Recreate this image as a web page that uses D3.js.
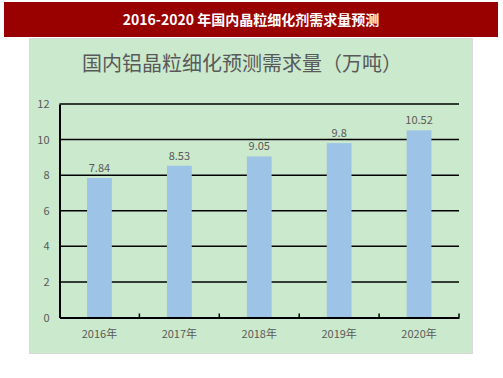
<!DOCTYPE html>
<html>
<head>
<meta charset="utf-8">
<script src="https://cdn.jsdelivr.net/npm/d3@7"></script>
<style>
  body { margin: 0; background: #fff; }
  svg { display: block; }
</style>
</head>
<body>
<svg id="chart" width="503" height="378"></svg>
<script>
// data
var years = ["2016年", "2017年", "2018年", "2019年", "2020年"];
var demand = [7.84, 8.53, 9.05, 9.8, 10.52];
var yTicks = [0, 2, 4, 6, 8, 10, 12];

var bannerTitle = "2016-2020 年国内晶粒细化剂需求量预测";
var chartTitle = "国内铝晶粒细化预测需求量（万吨）";

var svg = d3.select("#chart");
var cjk = "'Noto Sans CJK SC', 'Noto Sans', sans-serif";

// red banner
svg.append("rect")
  .attr("x", 4).attr("y", 2)
  .attr("width", 494).attr("height", 35)
  .attr("fill", "#990000");
svg.append("text")
  .attr("x", 251).attr("y", 25)
  .attr("text-anchor", "middle")
  .attr("fill", "#fff")
  .attr("font-family", cjk)
  .attr("font-weight", "bold")
  .attr("font-size", 14)
  .text(bannerTitle);

// green panel
svg.append("rect")
  .attr("x", 29.5).attr("y", 38.5)
  .attr("width", 443).attr("height", 315)
  .attr("fill", "#cbe9cd")
  .attr("stroke", "#d9d9d9");

svg.append("text")
  .attr("x", 242).attr("y", 71)
  .attr("text-anchor", "middle")
  .attr("fill", "#595959")
  .attr("font-family", cjk)
  .attr("font-size", 20)
  .text(chartTitle);

// plot box (named so we don't clash with window.top)
var plotL = 59.5, plotR = 459, plotT = 104, plotB = 317.5;

var x = d3.scaleBand()
  .domain(years)
  .range([plotL, plotR])
  .paddingInner(0.69)
  .paddingOuter(0.345);

var y = d3.scaleLinear()
  .domain([0, 12])
  .range([plotB, plotT]);

// gridlines
svg.append("g")
  .selectAll("line")
  .data(yTicks.slice(1))
  .join("line")
  .attr("x1", plotL).attr("x2", plotR)
  .attr("y1", d => y(d)).attr("y2", d => y(d))
  .attr("stroke", "#000")
  .attr("stroke-width", 1.5);

// bars
svg.append("g")
  .selectAll("rect")
  .data(demand)
  .join("rect")
  .attr("x", (d, i) => x(years[i]))
  .attr("y", d => y(d))
  .attr("width", x.bandwidth())
  .attr("height", d => plotB - y(d))
  .attr("fill", "#9dc3e6");

// value labels
svg.append("g")
  .selectAll("text")
  .data(demand)
  .join("text")
  .attr("x", (d, i) => x(years[i]) + x.bandwidth() / 2)
  .attr("y", d => y(d) - 6)
  .attr("text-anchor", "middle")
  .attr("fill", "#595959")
  .attr("font-family", cjk)
  .attr("font-size", 11)
  .text(d => d);

// y axis
var yAxis = svg.append("g")
  .attr("transform", `translate(${plotL},0)`)
  .call(d3.axisLeft(y).tickValues(yTicks).tickSize(0).tickPadding(10));
yAxis.select(".domain").attr("stroke", "#000").attr("stroke-width", 2);
yAxis.selectAll("text")
  .attr("fill", "#595959")
  .attr("font-family", cjk)
  .attr("font-size", 11);

// x axis with ticks at category boundaries
var xAxis = svg.append("g")
  .attr("transform", `translate(0,${plotB})`)
  .call(d3.axisBottom(x).tickSize(0).tickPadding(13));
xAxis.select(".domain").attr("stroke", "#000").attr("stroke-width", 2);
xAxis.selectAll("text")
  .attr("fill", "#595959")
  .attr("font-family", cjk)
  .attr("font-size", 11);

var step = x.step();
xAxis.append("g")
  .selectAll("line")
  .data(years)
  .join("line")
  .attr("x1", (d, i) => plotL + step * (i + 1))
  .attr("x2", (d, i) => plotL + step * (i + 1))
  .attr("y1", 0).attr("y2", -4)
  .attr("stroke", "#000")
  .attr("stroke-width", 1.5);
</script>
</body>
</html>
